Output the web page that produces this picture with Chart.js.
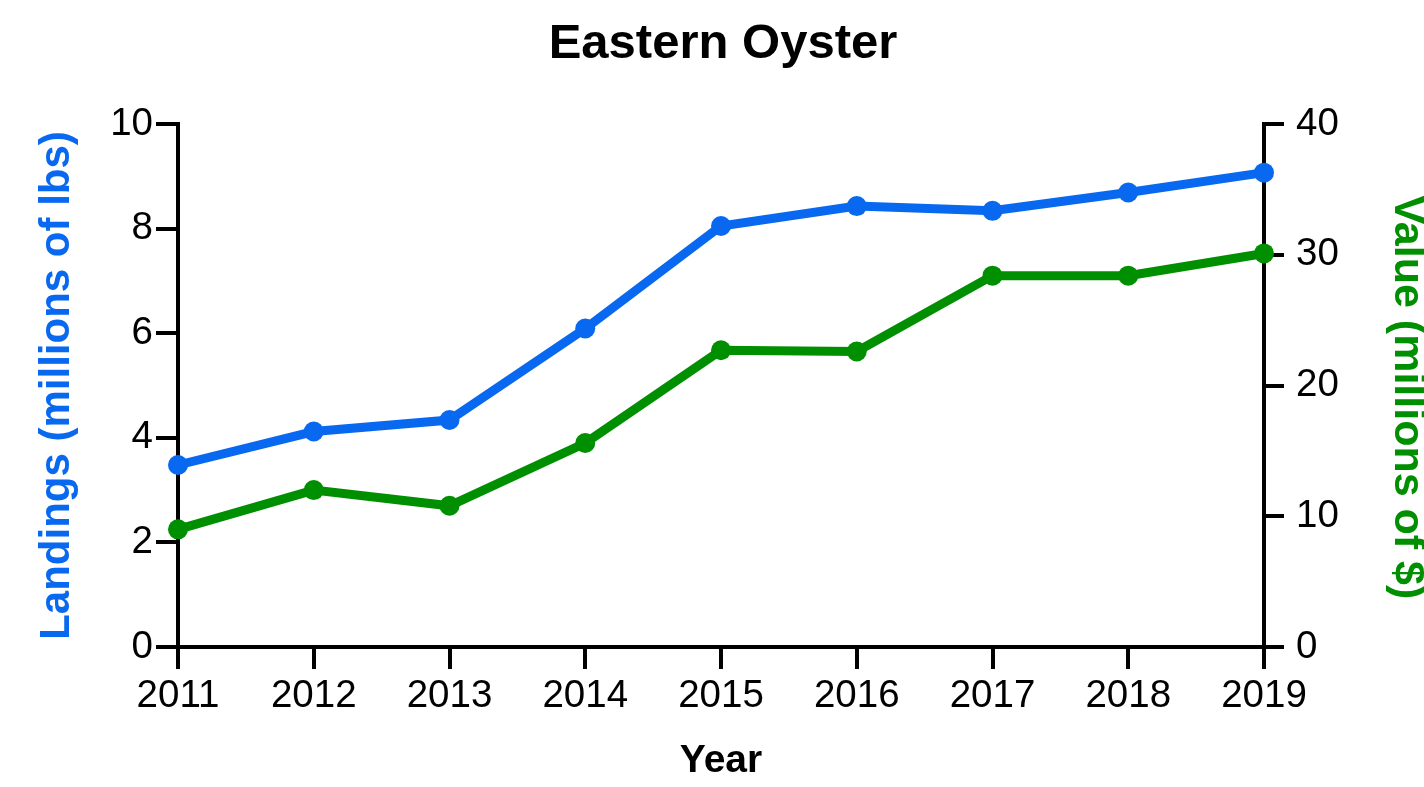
<!DOCTYPE html>
<html>
<head>
<meta charset="utf-8">
<title>Eastern Oyster</title>
<script src="https://cdn.jsdelivr.net/npm/chart.js@4"></script>
<style>
    html, body { margin: 0; padding: 0; background: #fff; }
    #wrap { width: 1424px; height: 787px; }
</style>
</head>
<body>
<div id="wrap"><canvas id="oysterChart"></canvas></div>
<script>
// Eastern oyster landings and value by year
const years = ['2011', '2012', '2013', '2014', '2015', '2016', '2017', '2018', '2019'];
const landings = [3.48, 4.12, 4.34, 6.09, 8.05, 8.43, 8.34, 8.69, 9.07];   // millions of lbs
const values = [9.0, 12.0, 10.8, 15.6, 22.7, 22.6, 28.4, 28.4, 30.1];      // millions of $
const landingTicks = [0, 2, 4, 6, 8, 10];
const valueTicks = [0, 10, 20, 30, 40];

const BLUE = '#0869F0';
const GREEN = '#008F00';
const FONT = "'Liberation Sans', Arial, Helvetica, sans-serif";

Chart.defaults.font.family = FONT;
Chart.defaults.color = '#000';

// black axis line with outward ticks, no gridlines inside the plot
function axisGrid(len) {
    return {
        drawOnChartArea: false,
        drawTicks: true,
        tickLength: len,
        color: '#000',
        lineWidth: 4
    };
}

const ctx = document.getElementById('oysterChart').getContext('2d');
new Chart(ctx, {
    type: 'line',
    data: {
        labels: years,
        datasets: [{
            label: 'Landings',
            data: landings,
            yAxisID: 'y',
            borderColor: BLUE,
            backgroundColor: BLUE,
            borderWidth: 9,
            pointRadius: 10,
            pointBorderWidth: 0,
            pointBackgroundColor: BLUE,
            tension: 0,
            clip: false
        }, {
            label: 'Value',
            data: values,
            yAxisID: 'y1',
            borderColor: GREEN,
            backgroundColor: GREEN,
            borderWidth: 9,
            pointRadius: 10,
            pointBorderWidth: 0,
            pointBackgroundColor: GREEN,
            tension: 0,
            clip: false
        }]
    },
    options: {
        responsive: true,
        maintainAspectRatio: false,
        animation: false,
        layout: { padding: { left: 22, right: 0, top: 0, bottom: 0 } },
        plugins: {
            legend: { display: false },
            tooltip: { enabled: false },
            title: {
                display: true,
                text: 'Eastern Oyster',
                color: '#000',
                font: { size: 49, weight: 'bold', lineHeight: 1.2 },
                padding: { top: 14.6, bottom: 50.6 }
            }
        },
        scales: {
            x: {
                type: 'category',
                offset: false,
                afterFit: (scale) => { scale.height = 140; },
                grid: axisGrid(22),
                border: { display: true, color: '#000', width: 4 },
                ticks: {
                    color: '#000',
                    font: { size: 38.5, lineHeight: 1.2 },
                    padding: 4,
                    maxRotation: 0,
                    autoSkip: false
                },
                title: {
                    display: true,
                    text: 'Year',
                    color: '#000',
                    font: { size: 39, weight: 'bold', lineHeight: 1 },
                    padding: { top: 0, bottom: 6.5 }
                }
            },
            y: {
                position: 'left',
                min: 0,
                max: 10,
                afterFit: (scale) => { scale.width = 156; },
                afterBuildTicks: (scale) => {
                    scale.ticks = landingTicks.map(v => ({ value: v }));
                },
                grid: axisGrid(22),
                border: { display: true, color: '#000', width: 4 },
                ticks: {
                    color: '#000',
                    font: { size: 38.5 },
                    padding: 3
                },
                title: {
                    display: true,
                    text: 'Landings (millions of lbs)',
                    color: BLUE,
                    font: { size: 42, weight: 'bold', lineHeight: 1 },
                    padding: { top: 14, bottom: 0 }
                }
            },
            y1: {
                position: 'right',
                min: 0,
                max: 40,
                afterFit: (scale) => { scale.width = 160; },
                afterBuildTicks: (scale) => {
                    scale.ticks = valueTicks.map(v => ({ value: v }));
                },
                grid: axisGrid(20),
                border: { display: true, color: '#000', width: 4 },
                ticks: {
                    color: '#000',
                    font: { size: 38.5 },
                    padding: 12
                },
                title: {
                    display: true,
                    text: '  Value (millions of $)',
                    color: GREEN,
                    font: { size: 43, weight: 'bold', lineHeight: 0.8 },
                    padding: { top: 0, bottom: 0 }
                }
            }
        }
    }
});
</script>
</body>
</html>
